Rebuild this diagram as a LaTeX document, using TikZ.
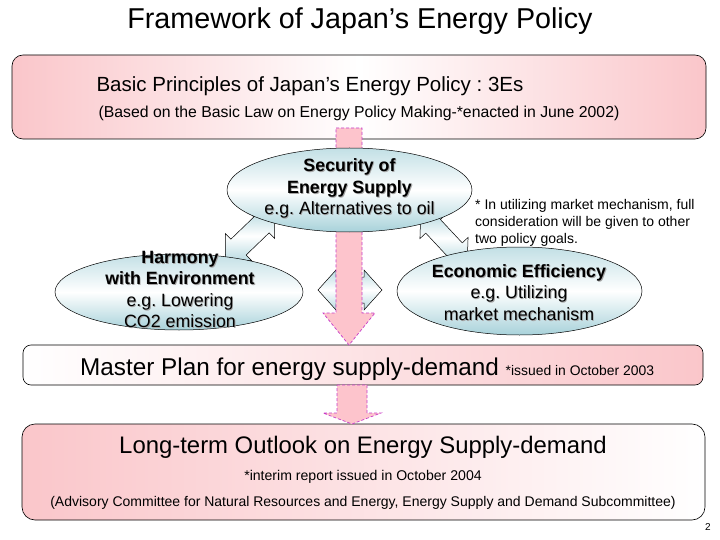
\documentclass[tikz,border=0pt]{standalone}
\usepackage{fontspec}
\setmainfont{Liberation Sans}
\usetikzlibrary{shapes.geometric}
\frenchspacing
\definecolor{boxpink}{RGB}{250,198,202}
\definecolor{arrpink}{RGB}{253,196,204}
\definecolor{magenta1}{RGB}{200,60,200}
\definecolor{tealA}{RGB}{168,210,218}
\newcommand\shd[1]{\rlap{\kern0.9pt\raisebox{-0.9pt}{\color{black!35}#1}}#1}
\tikzset{
  pbox/.style={draw=black, line width=0.6pt, rounded corners=11pt},
  ell/.style={ellipse, draw=black, line width=0.5pt, top color=tealA!70, bottom color=tealA, middle color=white, inner sep=0pt},
  elltext/.style={align=center, font=\fontsize{17.8}{21.5}\selectfont},
  pinkarrow/.style={draw=magenta1, dashed, line width=0.7pt, fill=arrpink, dash pattern=on 3pt off 2pt},
  dblarrow/.style={draw=black, line width=0.5pt, top color=tealA!80, bottom color=tealA!80, middle color=white},
}
\begin{document}
\begin{tikzpicture}[x=1pt,y=-1pt]
\useasboundingbox (0,0) rectangle (720,540);
\fill[white] (0,0) rectangle (720,540);

% title
\node[font=\fontsize{28.7}{32}\selectfont] (title) at (360,21) {Framework of Japan’s Energy Policy};

% top box
\node[pbox, minimum width=694pt, minimum height=84pt, left color=boxpink, right color=boxpink, middle color=white] (top) at (359,97) {};
\node[font=\fontsize{20.5}{24}\selectfont] (toptitle) at (310,86) {Basic Principles of Japan’s Energy Policy : 3Es};
\node[font=\fontsize{15.8}{18}\selectfont] (topsub) at (359,113) {(Based on the Basic Law on Energy Policy Making-*enacted in June 2002)};

% master plan box
\node[pbox, rounded corners=8pt, minimum width=680pt, minimum height=40pt, left color=white, right color=boxpink] (master) at (363,365) {};
\node[anchor=base west, inner sep=0pt] (mastertext) at (80,375) {\fontsize{24.3}{28}\selectfont Master Plan for energy supply-demand \fontsize{13.9}{16}\selectfont *issued in October 2003};

% bottom box
\node[pbox, rounded corners=13pt, minimum width=683pt, minimum height=96pt, left color=boxpink, right color=white] (bottom) at (363.5,472) {};
\node[font=\fontsize{23.9}{28}\selectfont] (bottomtitle) at (363,447) {Long-term Outlook on Energy Supply-demand};
\node[font=\fontsize{14.1}{17}\selectfont] (interim) at (363,477) {*interim report issued in October 2004};
\node[font=\fontsize{14}{17}\selectfont] (advisory) at (363,503) {(Advisory Committee for Natural Resources and Energy, Energy Supply and Demand Subcommittee)};

% horizontal double arrow
\coordinate (hmid) at (350,290);
\path[dblarrow] (318,290) -- (336,270) -- (336,277) -- (364,277) -- (364,270) -- (382,290)
  -- (364,310) -- (364,303) -- (336,303) -- (336,310) -- cycle;

% diagonal double arrows
\begin{scope}[shift={(250,236)}, rotate=44]
\coordinate (ldbl) at (0,0);
\path[dblarrow] (-34,0) -- (-16,-19) -- (-16,-11) -- (16,-11) -- (16,-19) -- (34,0)
  -- (16,19) -- (16,11) -- (-16,11) -- (-16,19) -- cycle;
\end{scope}
\begin{scope}[shift={(444,238)}, rotate=-47]
\coordinate (rdbl) at (0,0);
\path[dblarrow] (-34,0) -- (-16,-18) -- (-16,-10) -- (16,-10) -- (16,-18) -- (34,0)
  -- (16,18) -- (16,10) -- (-16,10) -- (-16,18) -- cycle;
\end{scope}

% pink arrows
\path[pinkarrow] (336,128) -- (362,128) -- (362,313) -- (375,313) -- (349,345) -- (323,313) -- (336,313) -- cycle;
\path[pinkarrow] (337,385) -- (367,385) -- (367,413) -- (381,413) -- (352,424) -- (323,413) -- (337,413) -- cycle;

% ellipses
\node[ell, minimum width=245pt, minimum height=84pt] (security) at (349.5,190) {};
\node[elltext] (securitytext) at (349.5,189) {\shd{\textbf{Security of}}\\\shd{\textbf{Energy Supply}}\\\shd{e.g. Alternatives to oil}};

\node[ell, minimum width=248pt, minimum height=76pt] (harmony) at (179,292) {};
\node[elltext] (harmonytext) at (180,290) {\shd{\textbf{Harmony}}\\\shd{\textbf{with Environment}}\\\shd{e.g. Lowering}\\\shd{CO2 emission}};

\node[ell, minimum width=245pt, minimum height=88pt] (economic) at (519.5,291) {};
\node[elltext] (economictext) at (519,293) {\shd{\textbf{Economic Efficiency}}\\\shd{e.g. Utilizing}\\\shd{market mechanism}};

% note
\node[anchor=north west, align=left, inner sep=0pt, font=\fontsize{14}{17}\selectfont] (note) at (475,199) {* In utilizing market mechanism, full\\consideration will be given to other\\two policy goals.};

% page number
\node[font=\fontsize{10}{12}\selectfont] (page) at (708,527) {2};
\end{tikzpicture}
\end{document}
